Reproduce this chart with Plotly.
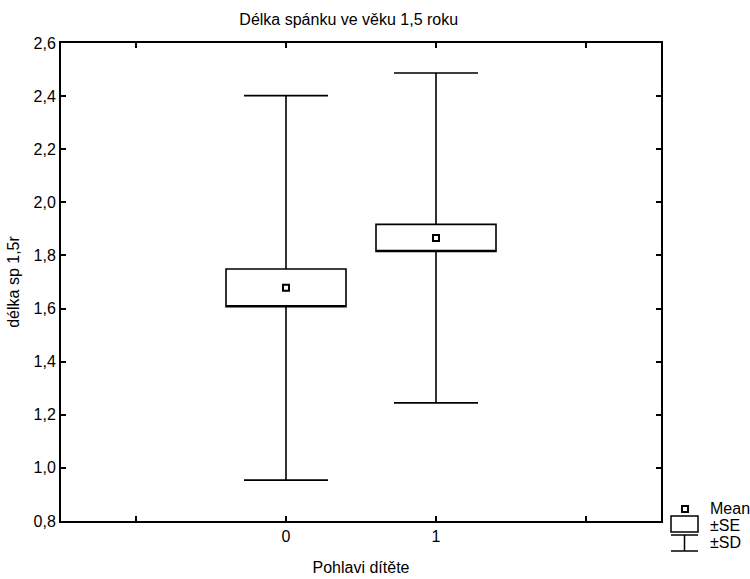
import plotly.graph_objects as go

# Sleep duration at 1.5 years by child's sex: mean, standard error, standard deviation
groups = [0, 1]
group_labels = ["0", "1"]
means = [1.678, 1.866]
se = [0.071, 0.051]
sd = [0.724, 0.621]

y_ticks = [0.8, 1.0, 1.2, 1.4, 1.6, 1.8, 2.0, 2.2, 2.4, 2.6]
x_ticks = [-1, 0, 1, 2]
x_tick_text = ["", "0", "1", ""]

FONT = "Liberation Sans, Arial, sans-serif"
W, H = 750, 579
L, R, T, B = 61, 89, 43, 58

fig = go.Figure()

# ±SE box with ±SD whiskers for each group
for g, m, s_e, s_d in zip(groups, means, se, sd):
    fig.add_trace(go.Box(
        x=[g],
        q1=[m - s_e], median=[m - s_e], q3=[m + s_e],
        lowerfence=[m - s_d], upperfence=[m + s_d],
        width=0.8, whiskerwidth=0.7,
        fillcolor="white",
        line=dict(color="black", width=1.6),
        boxpoints=False, hoverinfo="skip", showlegend=False,
    ))

# Mean markers
fig.add_trace(go.Scatter(
    x=groups, y=means, mode="markers",
    marker=dict(symbol="square-open", size=6, color="black",
                line=dict(color="black", width=2)),
    showlegend=False, hoverinfo="skip",
))

# Hand-drawn legend to the right of the plot area (pixel -> paper helpers)
pw, ph = W - L - R, H - T - B
def px(xp):
    return (xp - L) / pw
def py(yp):
    return (H - B - yp) / ph

shapes = []
# Mean symbol
shapes.append(dict(type="rect", xref="paper", yref="paper",
                   x0=px(682), x1=px(688), y0=py(512), y1=py(506),
                   line=dict(color="black", width=2), fillcolor="white"))
# ±SE symbol
shapes.append(dict(type="rect", xref="paper", yref="paper",
                   x0=px(671), x1=px(698), y0=py(532), y1=py(516),
                   line=dict(color="black", width=1.5), fillcolor="white"))
# ±SD symbol
for yy in (535, 551):
    shapes.append(dict(type="line", xref="paper", yref="paper",
                       x0=px(671), x1=px(698), y0=py(yy), y1=py(yy),
                       line=dict(color="black", width=1.5)))
shapes.append(dict(type="line", xref="paper", yref="paper",
                   x0=px(684.5), x1=px(684.5), y0=py(535), y1=py(551),
                   line=dict(color="black", width=1.5)))

annotations = []
for label, yy in (("Mean", 508), ("±SE", 525), ("±SD", 542)):
    annotations.append(dict(text=label, xref="paper", yref="paper",
                            x=px(708), y=py(yy), xanchor="left", yanchor="middle",
                            showarrow=False, font=dict(family=FONT, size=16, color="black")))

fig.update_layout(
    width=W, height=H,
    margin=dict(l=L, r=R, t=T, b=B, autoexpand=False),
    paper_bgcolor="white", plot_bgcolor="white",
    separators=",.",
    font=dict(family=FONT, size=16, color="black"),
    title=dict(text="Délka spánku ve věku 1,5 roku", x=px(340), xanchor="center",
               y=1 - 19 / H, yanchor="middle", font=dict(family=FONT, size=16)),
    shapes=shapes, annotations=annotations,
    showlegend=False,
)

fig.update_xaxes(
    type="linear", range=[-1.5, 2.5], automargin=False,
    tickvals=x_ticks, ticktext=x_tick_text,
    ticks="inside", ticklen=5, tickwidth=1.5, tickcolor="black",
    showline=True, linecolor="black", linewidth=2, mirror="ticks",
    showgrid=False, zeroline=False,
    tickfont=dict(family=FONT, size=16),
    title=dict(text="Pohlavi dítěte", standoff=18, font=dict(family=FONT, size=16)),
)
fig.update_yaxes(
    range=[0.8, 2.6], tickvals=y_ticks, tickformat=".1f", automargin=False,
    ticks="inside", ticklen=5, tickwidth=1.5, tickcolor="black",
    showline=True, linecolor="black", linewidth=2, mirror="ticks",
    showgrid=False, zeroline=False,
    tickfont=dict(family=FONT, size=16),
    title=dict(text="délka sp 1,5r", standoff=10, font=dict(family=FONT, size=16)),
)

fig.write_html("out.html")
